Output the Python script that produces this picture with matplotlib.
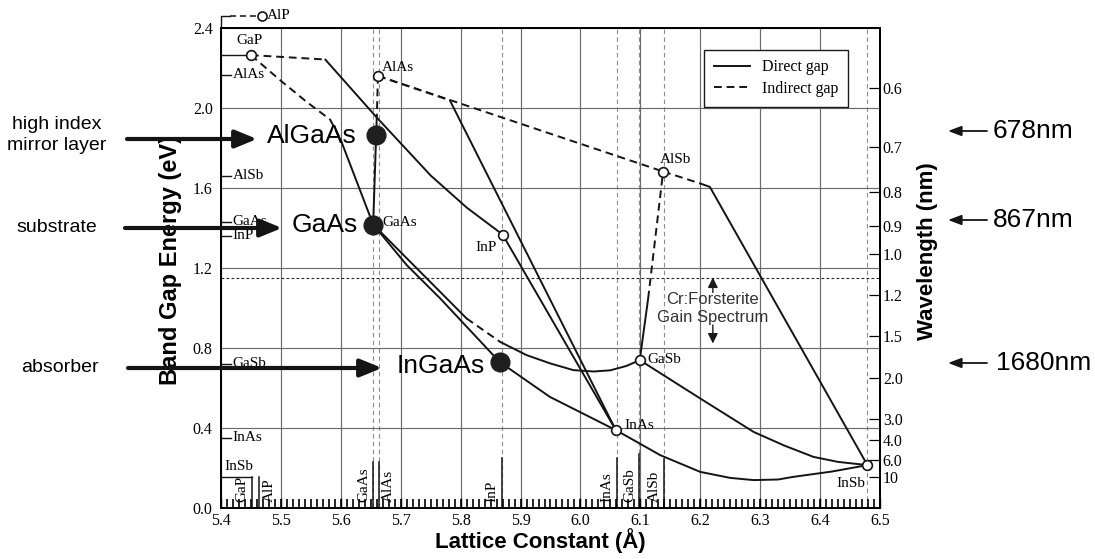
import matplotlib
matplotlib.use("Agg")
import matplotlib.pyplot as plt
from matplotlib.lines import Line2D
from matplotlib.patches import FancyArrowPatch
import numpy as np

SANS = ["Liberation Sans", "DejaVu Sans"]
SERIF = ["Liberation Serif", "DejaVu Serif"]
plt.rcParams["font.family"] = SERIF

# ---------------- data ----------------
# binary compounds (open circles): lattice constant (Å), band gap (eV)
bin_names = ["GaP", "AlAs", "InP", "AlSb", "GaSb", "InAs", "InSb"]
bin_a = [5.450, 5.662, 5.870, 6.138, 6.099, 6.059, 6.479]
bin_e = [2.262, 2.158, 1.365, 1.680, 0.737, 0.387, 0.212]

alp_a, alp_e = 5.468, 2.458  # AlP, drawn above the frame

# highlighted materials (filled dots)
mat_names = ["AlGaAs", "GaAs", "InGaAs"]
mat_a = [5.659, 5.654, 5.865]
mat_e = [1.865, 1.415, 0.728]

# alloy curves: indirect (dashed) and direct (solid) pieces
gap_gaas_ind_a = [5.450, 5.4985, 5.543, 5.582, 5.599]
gap_gaas_ind_e = [2.262, 2.137, 2.028, 1.940, 1.845]
gap_gaas_dir_a = [5.599, 5.654]
gap_gaas_dir_e = [1.845, 1.415]

gap_inp_ind_a = [5.450, 5.574]
gap_inp_ind_e = [2.262, 2.240]
gap_inp_dir_a = [5.574, 5.660, 5.750, 5.810, 5.870]
gap_inp_dir_e = [2.240, 1.950, 1.660, 1.500, 1.365]

alas_gaas_ind_a = [5.662, 5.660]
alas_gaas_ind_e = [2.158, 1.950]
alas_gaas_dir_a = [5.660, 5.659, 5.654]
alas_gaas_dir_e = [1.950, 1.865, 1.415]

alas_alsb_ind_a = [5.662, 6.138]
alas_alsb_ind_e = [2.158, 1.680]

alas_inas_ind_a = [5.662, 5.782]
alas_inas_ind_e = [2.158, 2.036]
alas_inas_dir_a = [5.782, 6.059]
alas_inas_dir_e = [2.036, 0.387]

alsb_insb_ind_a = [6.138, 6.200]
alsb_insb_ind_e = [1.680, 1.620]
alsb_insb_dir_a = [6.200, 6.216, 6.479]
alsb_insb_dir_e = [1.620, 1.603, 0.212]

inp_inas_dir_a = [5.870, 6.059]
inp_inas_dir_e = [1.365, 0.387]

gaas_inas_dir_a = [5.654, 5.710, 5.766, 5.865, 5.949, 6.059]
gaas_inas_dir_e = [1.415, 1.212, 1.045, 0.728, 0.553, 0.387]

gaas_gasb_dir1_a = [5.654, 5.738, 5.810]
gaas_gasb_dir1_e = [1.415, 1.162, 0.945]
gaas_gasb_ind_a = [5.810, 5.866]
gaas_gasb_ind_e = [0.945, 0.828]
gaas_gasb_dir2_a = [5.866, 5.910, 5.950, 5.988, 6.022, 6.050, 6.077, 6.099]
gaas_gasb_dir2_e = [0.828, 0.762, 0.720, 0.687, 0.680, 0.686, 0.708, 0.737]

gasb_alsb_dir_a = [6.099, 6.113]
gasb_alsb_dir_e = [0.737, 1.045]
gasb_alsb_ind_a = [6.113, 6.138]
gasb_alsb_ind_e = [1.045, 1.680]

gasb_insb_dir_a = [6.099, 6.150, 6.200, 6.289, 6.340, 6.389, 6.430, 6.479]
gasb_insb_dir_e = [0.737, 0.640, 0.545, 0.378, 0.310, 0.253, 0.228, 0.212]

inas_insb_dir_a = [6.059, 6.100, 6.133, 6.200, 6.250, 6.289, 6.330, 6.355, 6.420, 6.479]
inas_insb_dir_e = [0.387, 0.318, 0.262, 0.178, 0.148, 0.137, 0.140, 0.153, 0.180, 0.212]

# labels on left axis (band gap of binaries)
left_names = ["AlAs", "AlSb", "GaAs", "InP", "GaSb", "InAs"]
left_e = [2.165, 1.660, 1.430, 1.360, 0.720, 0.350]
insb_left_e = 0.155

# labels along bottom (lattice constants of binaries)
bottom_names = ["GaP", "AlP", "GaAs", "AlAs", "InP", "InAs", "GaSb", "AlSb"]
bottom_a = [5.451, 5.464, 5.654, 5.663, 5.869, 6.061, 6.098, 6.140]
bottom_h = [0.155, 0.155, 0.230, 0.230, 0.250, 0.250, 0.270, 0.245]
bottom_side = [-1, 1, -1, 1, -1, -1, -1, -1]
vline_a = [5.654, 5.663, 5.869, 6.061, 6.098, 6.140, 6.479]

# wavelength axis (µm)
wl_ticks = [0.6, 0.7, 0.8, 0.9, 1.0, 1.2, 1.5, 2.0, 3.0, 4.0, 6.0, 10]
wl_labels = ["0.6", "0.7", "0.8", "0.9", "1.0", "1.2", "1.5", "2.0", "3.0", "4.0", "6.0", "10"]

x_ticks = [5.4, 5.5, 5.6, 5.7, 5.8, 5.9, 6.0, 6.1, 6.2, 6.3, 6.4, 6.5]
y_ticks = [0.0, 0.4, 0.8, 1.2, 1.6, 2.0, 2.4]
x_minor_step = 0.01

gain_top, gain_bottom = 1.15, 0.82
gain_x = 6.221

# ---------------- figure ----------------
W, H = 1095, 559
fig = plt.figure(figsize=(W / 100, H / 100), dpi=100)
ax = fig.add_axes([221 / W, 1 - 507.5 / H, 659 / W, 480 / H])
ax.set_xlim(5.4, 6.5)
ax.set_ylim(0, 2.4)


def fpx(x, y):
    return (x / W, 1 - y / H)


ax.set_xticks(x_ticks)
ax.set_xticklabels([f"{v:.1f}" for v in x_ticks])
ax.set_yticks(y_ticks)
ax.set_yticklabels([f"{v:.1f}" for v in y_ticks])
ax.grid(True, which="major", color="0.42", lw=0.85)
ax.tick_params(axis="x", which="major", direction="in", length=7, width=1.0,
               labelsize=11.5, pad=4, color="0.05")
ax.tick_params(axis="y", which="major", length=0, labelsize=11.5, pad=6)
for s in ax.spines.values():
    s.set_linewidth(1.4)

# fine (minor) tick marks along the bottom edge
minor_x = np.arange(x_ticks[0], x_ticks[-1] + 1e-9, x_minor_step)
ax.vlines(minor_x, 0, 0.017, transform=ax.get_xaxis_transform(),
          color="black", lw=1.2, zorder=6)

# dashed vertical lines at binary lattice constants
for v in vline_a:
    ax.axvline(v, color="0.55", lw=0.8, ls=(0, (4, 3)), zorder=1)

# gain spectrum upper edge
ax.axhline(gain_top, color="0.15", lw=0.8, ls=(0, (2.5, 2)), zorder=2)

LW = 1.4
DASH = (0, (4, 2.5))


def draw(a, e, ind=False):
    ax.plot(a, e, color="0.08", lw=LW, ls=DASH if ind else "-",
            solid_capstyle="round", zorder=4)


draw(gap_gaas_ind_a, gap_gaas_ind_e, True)
draw(gap_gaas_dir_a, gap_gaas_dir_e)
draw(gap_inp_ind_a, gap_inp_ind_e, True)
draw(gap_inp_dir_a, gap_inp_dir_e)
draw(alas_gaas_ind_a, alas_gaas_ind_e, True)
draw(alas_gaas_dir_a, alas_gaas_dir_e)
draw(alas_alsb_ind_a, alas_alsb_ind_e, True)
draw(alas_inas_ind_a, alas_inas_ind_e, True)
draw(alas_inas_dir_a, alas_inas_dir_e)
draw(alsb_insb_ind_a, alsb_insb_ind_e, True)
draw(alsb_insb_dir_a, alsb_insb_dir_e)
draw(inp_inas_dir_a, inp_inas_dir_e)
draw(gaas_inas_dir_a, gaas_inas_dir_e)
draw(gaas_gasb_dir1_a, gaas_gasb_dir1_e)
draw(gaas_gasb_ind_a, gaas_gasb_ind_e, True)
draw(gaas_gasb_dir2_a, gaas_gasb_dir2_e)
draw(gasb_alsb_dir_a, gasb_alsb_dir_e)
draw(gasb_alsb_ind_a, gasb_alsb_ind_e, True)
draw(gasb_insb_dir_a, gasb_insb_dir_e)
draw(inas_insb_dir_a, inas_insb_dir_e)

# GaP tick line to its point, and off-scale AlP
ax.plot([5.4, bin_a[0]], [bin_e[0], bin_e[0]], color="0.08", lw=1.0, zorder=4)
ax.text(5.4484, 2.335, "GaP", fontsize=11, ha="center", va="center")
ax.plot([5.4, 5.4, 5.415], [2.4, alp_e, alp_e], color="0.08", lw=1.0, clip_on=False, zorder=4)
ax.plot([5.415, alp_a], [alp_e, alp_e], color="0.08", lw=1.1, ls=DASH, clip_on=False, zorder=4)
ax.plot([alp_a], [alp_e], "o", ms=6.5, mfc="white", mec="0.08", mew=1.2, clip_on=False, zorder=6)
ax.text(alp_a + 0.008, alp_e, "AlP", fontsize=11, ha="left", va="center")

# binary points
ax.plot(bin_a, bin_e, "o", ls="none", ms=7, mfc="white", mec="0.08", mew=1.2, zorder=6)
bin_lab = {
    "AlAs": (5.668, 2.20, "left"),
    "InP": (5.861, 1.30, "right"),
    "AlSb": (6.158, 1.74, "center"),
    "GaSb": (6.111, 0.74, "left"),
    "InAs": (6.074, 0.41, "left"),
    "InSb": (6.475, 0.12, "right"),
}
for n, (x, y, ha) in bin_lab.items():
    ax.text(x, y, n, fontsize=11, ha=ha, va="center", zorder=7)

# highlighted materials
ax.plot(mat_a, mat_e, "o", ls="none", ms=13.5, color="0.12", zorder=8)
ax.text(5.669, 1.424, "GaAs", fontsize=11, ha="left", va="center", zorder=9)

# left-axis compound ticks
for n, e in zip(left_names, left_e):
    ax.plot([5.4, 5.4165], [e, e], color="0.08", lw=1.0, zorder=5)
    ax.text(5.419, e, n, fontsize=11, ha="left", va="center", zorder=5)
ax.plot([5.4, 5.451], [insb_left_e, insb_left_e], color="0.08", lw=1.0, zorder=5)
ax.text(5.405, 0.205, "InSb", fontsize=11, ha="left", va="center", zorder=5)

# bottom compound marks
for n, a, h, sd in zip(bottom_names, bottom_a, bottom_h, bottom_side):
    ax.plot([a, a], [0, h], color="0.08", lw=1.1, zorder=5)
    ax.annotate(n, xy=(a, 0.03), xytext=(sd * 7, 0), textcoords="offset points",
                rotation=90, ha="center", va="bottom", fontsize=11, zorder=5)

# Cr:Forsterite gain band
ax.text(gain_x, 0.995, "Cr:Forsterite\nGain Spectrum", family=SANS, fontsize=12,
        color="0.2", ha="center", va="center", linespacing=1.25, zorder=7)
ax.annotate("", xy=(gain_x, gain_top), xytext=(gain_x, 1.075),
            arrowprops=dict(arrowstyle="-|>,head_length=0.6,head_width=0.3",
                            mutation_scale=10, lw=1.0, color="0.1",
                            shrinkA=0, shrinkB=0), zorder=7)
ax.annotate("", xy=(gain_x, gain_bottom), xytext=(gain_x, 0.912),
            arrowprops=dict(arrowstyle="-|>,head_length=0.6,head_width=0.3",
                            mutation_scale=10, lw=1.0, color="0.1",
                            shrinkA=0, shrinkB=0), zorder=7)

# legend
handles = [Line2D([], [], color="0.08", lw=LW, ls="-"),
           Line2D([], [], color="0.08", lw=LW, ls=DASH)]
leg = ax.legend(handles, ["Direct gap", "Indirect gap"], loc="upper right",
                bbox_to_anchor=(0.963, 0.970), fontsize=11.5, frameon=True,
                fancybox=False, edgecolor="0.1", framealpha=1, handlelength=2.3,
                borderpad=0.6, labelspacing=0.35, handletextpad=0.7)
leg.get_frame().set_linewidth(1.0)
leg.set_zorder(10)

# right wavelength axis
ax2 = ax.twinx()
ax2.set_ylim(0, 2.4)
ax2.set_yticks([1.24 / w + 0.03 for w in wl_ticks])
ax2.set_yticklabels(wl_labels)
ax2.tick_params(axis="y", direction="in", length=8, width=0.9, labelsize=11.5, pad=2)
for s in ax2.spines.values():
    s.set_linewidth(1.4)

# axis titles
ax.text(*fpx(171, 260), "Band Gap Energy (eV)", transform=fig.transFigure, family=SANS,
        fontweight="bold", fontsize=17, rotation=90, ha="center", va="center", clip_on=False)
ax.text(*fpx(540, 541), "Lattice Constant (Å)", transform=fig.transFigure, family=SANS,
        fontweight="bold", fontsize=16, ha="center", va="center", clip_on=False)
ax.text(*fpx(927, 251), "Wavelength (nm)", transform=fig.transFigure, family=SANS,
        fontweight="bold", fontsize=16, rotation=90, ha="center", va="center", clip_on=False)

# left annotations
fig.text(*fpx(57, 135), "high index\nmirror layer", family=SANS, fontsize=14,
         ha="center", va="center", multialignment="center", linespacing=1.25)
fig.text(*fpx(57, 228), "substrate", family=SANS, fontsize=14, ha="center", va="center")
fig.text(*fpx(60, 368), "absorber", family=SANS, fontsize=14, ha="center", va="center")
fig.text(*fpx(267, 136), "AlGaAs", family=SANS, fontsize=19, ha="left", va="center", zorder=12)
fig.text(*fpx(292, 225), "GaAs", family=SANS, fontsize=19, ha="left", va="center", zorder=12)
fig.text(*fpx(397, 366), "InGaAs", family=SANS, fontsize=19, ha="left", va="center", zorder=12)


def fig_arrow(x0, y0, x1, y1, lw, hl, hw, ms):
    p = FancyArrowPatch(fpx(x0, y0), fpx(x1, y1), transform=fig.transFigure,
                        arrowstyle=f"-|>,head_length={hl},head_width={hw}",
                        mutation_scale=ms, lw=lw, color="0.08",
                        shrinkA=0, shrinkB=0, zorder=11)
    fig.add_artist(p)


fig_arrow(127, 139, 257, 139, 3.0, 1.1, 0.45, 12)
fig_arrow(125, 228, 282, 228, 3.0, 1.1, 0.45, 12)
fig_arrow(128, 368, 382, 368, 3.0, 1.1, 0.45, 12)

# right annotations
fig_arrow(987, 131, 948, 131, 1.3, 0.8, 0.3, 10)
fig_arrow(987, 220, 948, 220, 1.3, 0.8, 0.3, 10)
fig_arrow(987, 363, 948, 363, 1.3, 0.8, 0.3, 10)
fig.text(*fpx(993, 131), "678nm", family=SANS, fontsize=19, ha="left", va="center")
fig.text(*fpx(993, 220), "867nm", family=SANS, fontsize=19, ha="left", va="center")
fig.text(*fpx(996, 363), "1680nm", family=SANS, fontsize=19, ha="left", va="center")

fig.savefig("out.png", dpi=100, facecolor="white")
